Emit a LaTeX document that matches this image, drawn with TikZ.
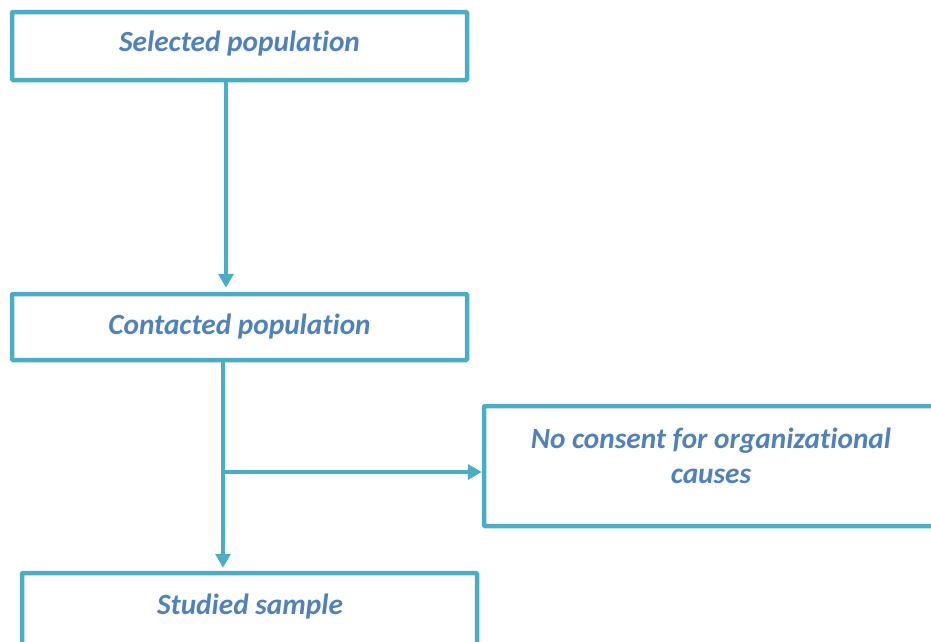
\documentclass[tikz,border=0pt]{standalone}
\usepackage{fontspec}
\setmainfont[RawFeature={-liga}]{Carlito}
\usetikzlibrary{arrows.meta,calc}
\definecolor{boxc}{HTML}{4BACC6}
\definecolor{txtc}{HTML}{4F81BD}
\begin{document}
\begin{tikzpicture}[x=1pt,y=-1pt,
  box/.style={draw=boxc,line width=4.5pt,rectangle,rounded corners=1pt,fill=white,inner sep=0pt},
  lbl/.style={text=txtc,font=\fontsize{29.3}{35}\selectfont\bfseries\itshape,align=center},
  arr/.style={draw=boxc,line width=4.2pt,-{Triangle[length=14pt,width=15pt]}}]
\useasboundingbox (0,0) rectangle (931,641);
\clip (0,0) rectangle (931,641);
\node[box,minimum width=455pt,minimum height=68pt] (b1) at (239.5,46) {};
\node[lbl] (t1) at (239.5,44) {Selected population};
\node[box,minimum width=455pt,minimum height=66pt] (b2) at (239.5,327) {};
\node[lbl] (t2) at (239.5,327) {Contacted population};
\node[box,minimum width=470pt,minimum height=120pt] (b3) at (719,466) {};
\node[lbl] (t3) at (711,456) {No consent for organizational\\causes};
\node[box,minimum width=455pt,minimum height=80pt] (b4) at (249.5,613) {};
\node[lbl] (t4) at (250,607) {Studied sample};
\coordinate (j) at (223,472);
\draw[arr,shorten >=4pt] ([xshift=-13.5pt]b1.south) -- ([xshift=-13.5pt]b2.north);
\draw[arr,shorten >=3pt] ([xshift=-16.5pt]b2.south) -- ([xshift=-16.5pt]b2.south |- b4.north);
\draw[arr] (j) -- (j -| b3.west);
\end{tikzpicture}
\end{document}
